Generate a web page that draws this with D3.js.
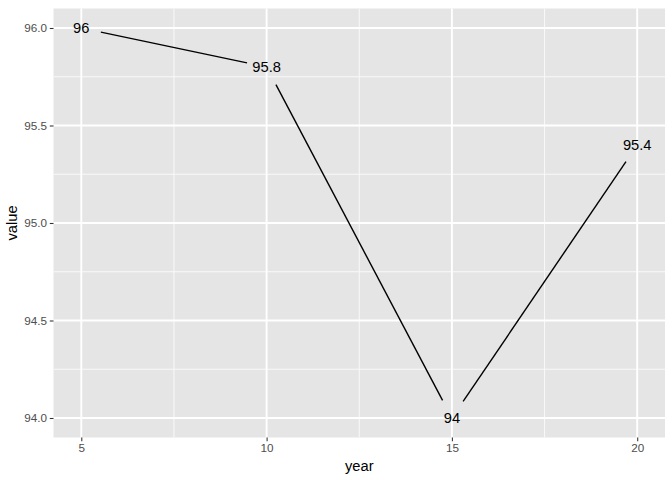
<!DOCTYPE html>
<html>
<head>
<meta charset="utf-8">
<script src="https://cdn.jsdelivr.net/npm/d3@7"></script>
<style>
  html, body { margin: 0; padding: 0; background: #ffffff; }
  svg { display: block; font-family: "Liberation Sans", Arial, Helvetica, sans-serif; }
</style>
</head>
<body>
<svg id="chart" width="672" height="480"></svg>
<script>
const years = [5, 10, 15, 20];
const values = [96, 95.8, 94, 95.4];
const labels = ["96", "95.8", "94", "95.4"];
const xTicks = [5, 10, 15, 20];
const xMinor = [7.5, 12.5, 17.5];
const yTicks = [94.0, 94.5, 95.0, 95.5, 96.0];
const yMinor = [94.25, 94.75, 95.25, 95.75];

const svg = d3.select("#chart");
const margin = { left: 53.5, right: 7, top: 8.5, bottom: 42.5 };
const W = 672, H = 480;
const pw = W - margin.left - margin.right;
const ph = H - margin.top - margin.bottom;

const x = d3.scaleLinear().domain([4.25, 20.75]).range([margin.left, margin.left + pw]);
const y = d3.scaleLinear().domain([93.9, 96.1]).range([margin.top + ph, margin.top]);

// panel background
svg.append("rect")
  .attr("x", margin.left).attr("y", margin.top)
  .attr("width", pw).attr("height", ph)
  .attr("fill", "#E5E5E5");

const grid = svg.append("g");
// minor grid
grid.selectAll("line.xmin").data(xMinor).enter().append("line")
  .attr("x1", d => x(d)).attr("x2", d => x(d))
  .attr("y1", margin.top).attr("y2", margin.top + ph)
  .attr("stroke", "#FAFAFA").attr("stroke-width", 0.95);
grid.selectAll("line.ymin").data(yMinor).enter().append("line")
  .attr("y1", d => y(d)).attr("y2", d => y(d))
  .attr("x1", margin.left).attr("x2", margin.left + pw)
  .attr("stroke", "#FAFAFA").attr("stroke-width", 0.95);
// major grid
grid.selectAll("line.xmaj").data(xTicks).enter().append("line")
  .attr("x1", d => x(d)).attr("x2", d => x(d))
  .attr("y1", margin.top).attr("y2", margin.top + ph)
  .attr("stroke", "#ffffff").attr("stroke-width", 1.9);
grid.selectAll("line.ymaj").data(yTicks).enter().append("line")
  .attr("y1", d => y(d)).attr("y2", d => y(d))
  .attr("x1", margin.left).attr("x2", margin.left + pw)
  .attr("stroke", "#ffffff").attr("stroke-width", 1.9);

// axes
const xAxis = d3.axisBottom(x).tickValues(xTicks).tickSize(3.7).tickPadding(2.9).tickFormat(d3.format("d"));
const yAxis = d3.axisLeft(y).tickValues(yTicks).tickSize(3.7).tickPadding(2.9).tickFormat(d3.format(".1f"));

const gx = svg.append("g").attr("transform", `translate(0,${margin.top + ph})`).call(xAxis);
const gy = svg.append("g").attr("transform", `translate(${margin.left},0)`).call(yAxis);
[gx, gy].forEach(g => {
  g.select(".domain").remove();
  g.selectAll(".tick line").attr("stroke", "#333333").attr("stroke-width", 1.07);
  g.selectAll(".tick text").attr("fill", "#4D4D4D").style("font-size", "11.7px")
    .style("font-family", "'Liberation Sans', Arial, sans-serif");
});

// data
const pts = years.map((d, i) => ({ x: x(d), y: y(values[i]), label: labels[i] }));
const gap = 20;
const segs = [];
for (let i = 0; i < pts.length - 1; i++) {
  const a = pts[i], b = pts[i + 1];
  const dx = b.x - a.x, dy = b.y - a.y;
  const len = Math.hypot(dx, dy);
  const ux = dx / len, uy = dy / len;
  segs.push({ x1: a.x + ux * gap, y1: a.y + uy * gap, x2: b.x - ux * gap, y2: b.y - uy * gap });
}
svg.append("g").selectAll("line").data(segs).enter().append("line")
  .attr("x1", d => d.x1).attr("y1", d => d.y1)
  .attr("x2", d => d.x2).attr("y2", d => d.y2)
  .attr("stroke", "#000000").attr("stroke-width", 1.4);

svg.append("g").selectAll("text").data(pts).enter().append("text")
  .attr("x", d => d.x).attr("y", d => d.y)
  .attr("dy", "0.35em")
  .attr("text-anchor", "middle")
  .attr("fill", "#000000")
  .style("font-size", "14.7px")
  .text(d => d.label);

// axis titles
svg.append("text")
  .attr("x", margin.left + pw / 2).attr("y", 471)
  .attr("text-anchor", "middle")
  .style("font-size", "14.7px")
  .attr("fill", "#000000")
  .text("year");
svg.append("text")
  .attr("transform", `translate(17,${margin.top + ph / 2}) rotate(-90)`)
  .attr("text-anchor", "middle")
  .style("font-size", "14.7px")
  .attr("fill", "#000000")
  .text("value");
</script>
</body>
</html>
